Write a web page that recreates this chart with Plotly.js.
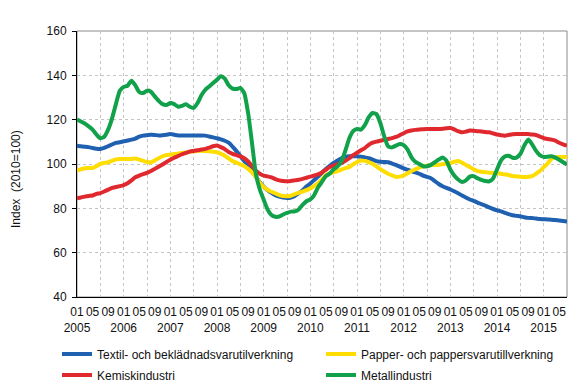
<!DOCTYPE html>
<html><head><meta charset="utf-8">
<script src="https://cdn.plot.ly/plotly-3.0.1.min.js"></script>
<style>html,body{margin:0;padding:0;background:#fff;}#chart{width:584px;height:389px;}</style>
</head><body><div id="chart"></div>
<script>
// Monthly categories: 2005-01 ... 2015-07
const startYear = 2005;
const nMonths = 127;
const categories = [];
for (let i = 0; i < nMonths; i++) {
  categories.push((startYear + Math.floor(i / 12)) + '-' + String(i % 12 + 1).padStart(2, '0'));
}

const seriesNames = ['Textil- och beklädnadsvarutilverkning', 'Papper- och pappersvarutillverkning', 'Kemiskindustri', 'Metallindustri'];

const textil = [108.3,108.0,107.8,107.6,107.2,106.9,106.8,107.3,108.0,108.8,109.5,109.8,
110.2,110.6,111.0,111.5,112.3,112.8,113.0,113.2,113.1,112.9,113.0,113.2,
113.5,113.2,112.9,112.9,112.9,112.9,112.9,112.9,112.9,112.8,112.4,112.0,
111.6,111.1,110.5,109.6,107.8,105.8,103.6,101.3,99.2,96.8,94.2,91.8,
89.8,88.2,87.0,85.9,85.3,84.9,84.7,84.9,85.6,86.8,88.2,89.8,
91.2,92.8,94.4,96.0,97.8,99.2,100.5,101.6,102.6,103.2,103.5,103.5,
103.5,103.3,103.0,102.6,102.0,101.3,101.0,100.9,100.8,100.2,99.6,98.8,
98.0,97.4,96.8,96.2,95.6,94.8,94.2,93.6,92.3,91.0,90.0,89.2,
88.5,87.7,86.8,85.8,84.9,84.0,83.4,82.6,81.9,81.2,80.4,79.7,
79.1,78.6,78.0,77.4,76.9,76.6,76.4,76.0,75.7,75.6,75.4,75.2,
75.1,75.0,74.9,74.7,74.5,74.3,74.1];

const papper = [97.1,97.6,98.1,98.2,98.2,99.0,100.1,100.5,100.8,101.4,102.1,102.3,
102.3,102.3,102.3,102.5,102.0,101.4,100.9,100.7,101.6,102.6,103.5,104.0,
104.2,104.5,104.8,105.0,105.2,105.5,105.7,105.9,106.0,105.9,105.7,105.5,
105.3,104.6,103.7,102.5,101.3,100.6,99.8,99.1,97.8,96.2,94.1,91.6,
89.6,88.4,87.5,86.8,86.0,85.6,85.4,85.7,86.4,87.0,87.6,88.2,
89.0,90.1,91.4,93.0,95.0,95.8,96.2,96.8,97.5,98.1,98.6,99.8,
100.9,101.6,101.4,100.9,100.1,98.9,97.7,96.6,95.6,94.9,94.2,94.3,
94.8,95.8,96.8,97.6,98.4,98.9,99.3,99.6,99.6,99.7,99.9,100.2,
100.5,101.0,101.4,100.6,99.6,98.6,97.6,96.8,96.5,96.3,96.1,96.0,
95.8,95.6,95.3,95.0,94.6,94.4,94.2,94.1,94.2,94.5,95.6,96.8,
98.6,100.2,102.3,103.1,103.2,103.2,103.2];

const kemisk = [84.5,84.9,85.3,85.6,85.8,86.5,86.9,87.6,88.4,89.2,89.6,90.0,
90.5,91.3,92.6,94.0,94.8,95.4,96.0,96.8,97.8,98.8,99.8,100.9,
101.9,102.8,103.6,104.4,105.0,105.6,105.9,106.2,106.5,106.8,107.4,108.0,
108.3,107.6,106.7,105.4,104.6,104.0,103.4,102.6,101.2,99.2,97.0,95.6,
94.8,94.4,94.0,93.2,92.6,92.3,92.2,92.3,92.6,92.9,93.3,93.8,
94.3,94.8,95.3,96.2,97.4,98.6,99.3,99.9,100.4,101.4,102.6,104.0,
105.1,106.2,107.2,108.6,109.6,110.1,110.5,110.9,111.3,111.7,112.2,113.0,
113.9,114.7,115.1,115.4,115.6,115.7,115.8,115.8,115.8,115.8,115.9,116.1,
116.2,115.6,114.8,114.3,114.6,115.1,115.0,114.8,114.7,114.4,114.3,113.8,
113.3,113.0,112.8,113.1,113.4,113.5,113.5,113.5,113.5,113.3,113.1,112.4,
111.7,111.3,111.0,110.5,109.6,108.9,108.3];

const metall = [120.0,119.2,118.3,117.0,115.5,113.3,111.6,112.3,115.5,120.5,127.0,133.0,
134.8,135.3,137.6,135.5,132.5,132.0,133.1,132.6,130.5,128.5,127.0,126.6,
127.5,127.0,125.8,126.2,127.0,125.8,125.3,127.5,131.0,133.5,135.0,136.5,
138.0,139.6,138.5,135.5,134.0,133.8,134.3,132.0,123.0,109.5,95.5,88.5,
83.9,79.5,77.0,76.2,76.3,77.2,77.9,78.5,78.6,79.5,81.6,83.2,
84.0,86.0,89.5,92.0,94.5,95.7,97.6,98.9,101.2,106.0,111.5,114.8,
115.8,115.5,117.5,121.0,123.0,122.5,118.5,112.5,108.0,107.5,108.3,109.0,
108.5,106.5,103.0,101.0,100.0,99.0,99.0,99.6,100.8,102.0,102.9,101.5,
97.5,94.8,93.0,91.9,92.6,94.3,94.5,93.6,92.8,92.3,92.2,93.5,
97.5,101.5,103.4,103.7,102.8,102.9,104.5,108.3,111.0,109.0,106.0,104.0,
103.2,103.3,103.5,102.9,101.9,100.8,99.8];

// Tick labels
const labelMonths = ['01', '05', '09'];
const years = [2005,2006,2007,2008,2009,2010,2011,2012,2013,2014,2015];

const xIdx = categories.map((c, i) => i);
const tickVals = [], tickText = [];
years.forEach(function (yr) {
  labelMonths.forEach(function (mm) {
    const idx = categories.indexOf(yr + '-' + mm);
    if (idx >= 0) {
      tickVals.push(idx);
      tickText.push(mm === '01' ? mm + '<br>' + yr : mm);
    }
  });
});
const gridVals = [];
for (let i = 0; i < nMonths; i += 6) gridVals.push(i);

const colors = ['#1f60b0', '#ffdd00', '#e0282f', '#10a14a'];
const legendOf = ['legend', 'legend2', 'legend', 'legend2'];
const values = [textil, papper, kemisk, metall];

const font = {family: '"Liberation Sans", Arial, sans-serif', size: 12, color: '#111'};

const traces = values.map(function (v, k) {
  return {
    type: 'scatter', mode: 'lines', x: xIdx, y: v, name: seriesNames[k],
    line: {color: colors[k], width: 4, shape: 'spline', smoothing: 0.5},
    legend: legendOf[k], legendgroup: 'g' + k, hoverinfo: 'skip'
  };
});
traces.push({type: 'scatter', mode: 'lines', x: [0], y: [null], xaxis: 'x2', yaxis: 'y', showlegend: false, hoverinfo: 'skip'});

const gridStyle = {gridcolor: '#c4c4c4', griddash: 'dot', gridwidth: 1};

const layout = {
  width: 584, height: 389,
  margin: {l: 77, r: 17, t: 31, b: 92, autoexpand: false},
  paper_bgcolor: '#fff', plot_bgcolor: '#fff',
  font: font,
  showlegend: true,
  xaxis: Object.assign({
    range: [0, 126], autorange: false, tickmode: 'array', tickvals: gridVals,
    showticklabels: false, ticks: '', showgrid: true, zeroline: false,
    showline: true, linecolor: '#000', linewidth: 1
  }, gridStyle),
  xaxis2: {
    overlaying: 'x', anchor: 'y', side: 'bottom', range: [0, 126], autorange: false,
    tickmode: 'array', tickvals: tickVals, ticktext: tickText, showgrid: false,
    zeroline: false, showline: false, ticks: '', tickangle: 0, tickfont: font, ticklabelstandoff: 6
  },
  yaxis: Object.assign({
    range: [40, 160], autorange: false, tickmode: 'linear', tick0: 40, dtick: 20,
    ticks: 'outside', ticklen: 4, tickcolor: '#000', tickwidth: 1,
    showline: true, linecolor: '#000', linewidth: 1, zeroline: false,
    tickfont: font, ticklabelstandoff: 3
  }, gridStyle),
  legend: {
    x: -0.0408, xanchor: 'left', y: -0.16, yanchor: 'top', orientation: 'v',
    traceorder: 'grouped', tracegroupgap: 2, font: font, bgcolor: 'rgba(0,0,0,0)'
  },
  legend2: {
    x: 0.498, xanchor: 'left', y: -0.16, yanchor: 'top', orientation: 'v',
    traceorder: 'grouped', tracegroupgap: 2, font: font, bgcolor: 'rgba(0,0,0,0)'
  },
  shapes: [{
    type: 'rect', xref: 'paper', yref: 'paper', x0: 0, x1: 1, y0: 0, y1: 1,
    line: {color: '#8c8c8c', width: 1}, layer: 'below'
  }],
  annotations: [{
    text: 'Index  (2010=100)', xref: 'paper', yref: 'paper', x: -0.1245, y: 0.4436,
    xanchor: 'center', yanchor: 'middle', textangle: -90, showarrow: false, font: font
  }]
};

Plotly.newPlot('chart', traces, layout, {displayModeBar: false, staticPlot: true});
</script>
</body></html>
